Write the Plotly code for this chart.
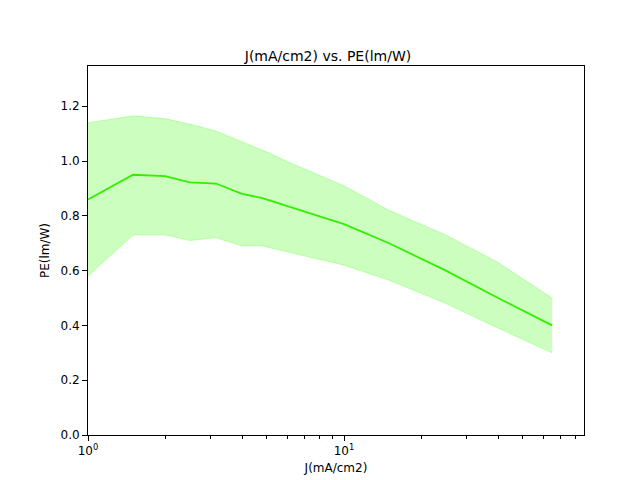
import plotly.graph_objects as go

j = [1.0, 1.5, 2.0, 2.5, 3.16, 4.0, 4.8, 6.3, 10, 15, 25, 40, 65]
pe = [0.86, 0.95, 0.945, 0.922, 0.918, 0.88, 0.865, 0.83, 0.77, 0.70, 0.60, 0.50, 0.40]
pe_hi = [1.14, 1.165, 1.155, 1.135, 1.11, 1.07, 1.04, 0.99, 0.91, 0.82, 0.73, 0.63, 0.50]
pe_lo = [0.58, 0.73, 0.73, 0.71, 0.72, 0.69, 0.69, 0.665, 0.62, 0.565, 0.48, 0.39, 0.30]

fig = go.Figure()
fig.add_trace(go.Scatter(x=j, y=pe_hi, mode="lines", line=dict(width=0.8, color="rgba(51,255,0,0.3)"),
                         showlegend=False, hoverinfo="skip"))
fig.add_trace(go.Scatter(x=j, y=pe_lo, mode="lines", line=dict(width=0.8, color="rgba(51,255,0,0.3)"),
                         fill="tonexty", fillcolor="rgba(51,255,0,0.25)", showlegend=False, hoverinfo="skip"))
fig.add_trace(go.Scatter(x=j, y=pe, mode="lines", line=dict(width=1.8, color="#33ee00"), showlegend=False))

axis = dict(showline=True, mirror=True, linecolor="black", linewidth=1, ticks="outside",
            tickcolor="black", showgrid=False, zeroline=False, automargin=False,
            tickfont=dict(size=12), title_font=dict(size=12))
fig.update_layout(
    width=640, height=480, paper_bgcolor="white", plot_bgcolor="white",
    font=dict(family="DejaVu Sans", size=12, color="black"),
    title=dict(text="J(mA/cm2) vs. PE(lm/W)", x=0.5, xanchor="center", y=0.91, font=dict(size=14)),
    margin=dict(l=80, r=64, t=58, b=53, autoexpand=False),
    xaxis=dict(type="log", range=[0, 1.9375], title=dict(text="J(mA/cm2)", standoff=6),
               tickvals=[1, 10], ticktext=["10<sup>0</sup>", "10<sup>1</sup>"],
               minor=dict(ticks="outside", ticklen=3, tickcolor="black",
                          tickvals=[2, 3, 4, 5, 6, 7, 8, 9, 20, 30, 40, 50, 60, 70, 80]),
               **axis),
    yaxis=dict(range=[0, 1.347], title=dict(text="PE(lm/W)", standoff=8),
               tickvals=[0, 0.2, 0.4, 0.6, 0.8, 1.0, 1.2], tickformat=".1f", **axis),
)
fig.write_html("out.html")
